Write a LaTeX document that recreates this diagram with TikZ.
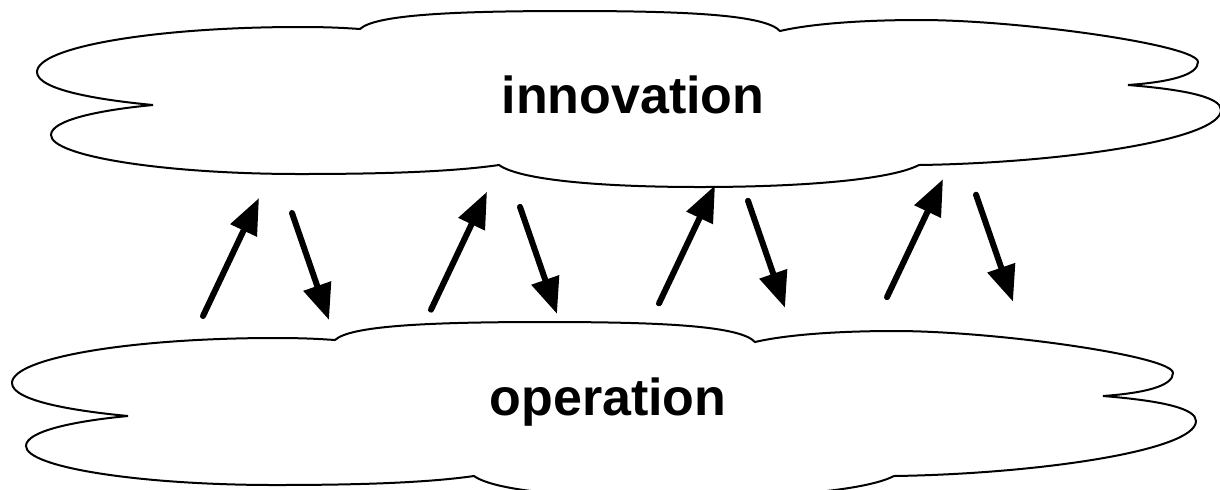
\documentclass[tikz,border=0pt]{standalone}
\usepackage{fontspec}
\newfontfamily\labelfont{Liberation Sans}
\usetikzlibrary{arrows.meta}

\newcommand{\cloudoutline}{
 (360,29) .. controls (375,15) and (450,11) .. (570,11)
 .. controls (690,11) and (765,15) .. (780,31)
 .. controls (810,24) and (860,20) .. (920,20)
 .. controls (1020,20) and (1198,45) .. (1198,62)
 .. controls (1198,75) and (1170,82) .. (1128,85)
 .. controls (1190,90) and (1221,98) .. (1221,110)
 .. controls (1221,140) and (1060,163) .. (919,165)
 .. controls (890,180) and (800,187) .. (700,187)
 .. controls (600,187) and (520,180) .. (499,165)
 .. controls (450,172) and (380,174) .. (300,174)
 .. controls (163,174) and (51,156) .. (51,135)
 .. controls (51,120) and (100,110) .. (153,105)
 .. controls (100,100) and (37,90) .. (37,72)
 .. controls (37,47) and (155,27) .. (300,27)
 .. controls (330,27) and (345,28) .. cycle
}

\tikzset{
  cloud line/.style={line width=1pt, fill=white},
  cloud text/.style={font=\labelfont\bfseries\fontsize{26}{30}\selectfont, anchor=base, inner sep=0pt},
  flow/.style={line width=3pt, line cap=round, -{Triangle[length=18pt,width=14pt]}}
}

\begin{document}
\begin{tikzpicture}[x=0.5pt,y=-0.5pt]
		\useasboundingbox (0,0) rectangle (1220,489);

		\draw[cloud line] \cloudoutline;
		\draw[cloud line, shift={(-25,311)}] \cloudoutline;

		\node[cloud text] (innovation) at (633,113) {innovation};
		\node[cloud text] (operation) at (608,415) {operation};

		\foreach \i in {0,...,3}{
			\coordinate (up tail \i) at (203+228*\i, 316-6.3*\i);
			\coordinate (up tip \i) at (259+228*\i, 198-6.3*\i);
			\coordinate (down tail \i) at (292+228*\i, 213-6.1*\i);
			\coordinate (down tip \i) at (329+228*\i, 320-6.1*\i);
			\draw[flow] (up tail \i)--(up tip \i);
			\draw[flow] (down tail \i)--(down tip \i);
		}
\end{tikzpicture}
\end{document}
